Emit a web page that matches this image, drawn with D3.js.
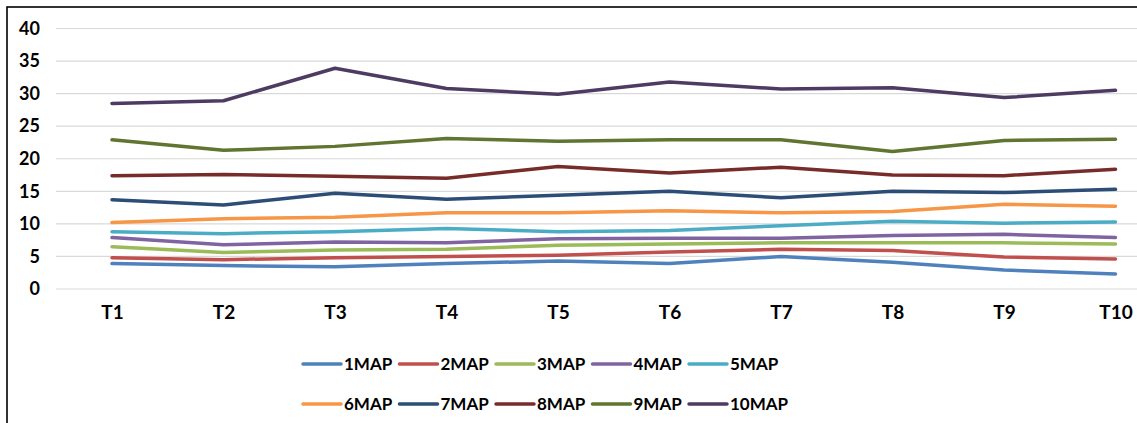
<!DOCTYPE html>
<html>
<head>
<meta charset="utf-8">
<script src="https://cdn.jsdelivr.net/npm/d3@7"></script>
<style>
  html, body { margin: 0; padding: 0; background: #fff; }
  svg { display: block; }
</style>
</head>
<body>
<svg id="chart" width="1137" height="423"></svg>
<script>
const categories = ["T1","T2","T3","T4","T5","T6","T7","T8","T9","T10"];
const seriesNames = ["1MAP","2MAP","3MAP","4MAP","5MAP","6MAP","7MAP","8MAP","9MAP","10MAP"];
const seriesColors = ["#4F81BD","#C0504D","#9BBB59","#8064A2","#4BACC6","#F79646","#2C4D75","#772C2A","#5F7530","#4D3B62"];
const map1  = [3.9, 3.6, 3.4, 3.9, 4.3, 3.9, 5.0, 4.1, 2.9, 2.3];
const map2  = [4.8, 4.5, 4.8, 5.0, 5.2, 5.7, 6.1, 5.9, 4.9, 4.6];
const map3  = [6.5, 5.6, 6.0, 6.1, 6.7, 6.9, 7.1, 7.1, 7.1, 6.9];
const map4  = [7.9, 6.8, 7.2, 7.1, 7.7, 7.8, 7.8, 8.2, 8.4, 7.9];
const map5  = [8.8, 8.5, 8.8, 9.3, 8.8, 9.0, 9.7, 10.4, 10.1, 10.3];
const map6  = [10.2, 10.8, 11.0, 11.7, 11.7, 12.0, 11.7, 11.9, 13.0, 12.7];
const map7  = [13.7, 12.9, 14.7, 13.8, 14.4, 15.0, 14.0, 15.0, 14.8, 15.3];
const map8  = [17.4, 17.6, 17.3, 17.0, 18.8, 17.8, 18.7, 17.5, 17.4, 18.4];
const map9  = [22.9, 21.3, 21.9, 23.1, 22.7, 22.9, 22.9, 21.1, 22.8, 23.0];
const map10 = [28.5, 28.9, 33.9, 30.8, 29.9, 31.8, 30.7, 30.9, 29.4, 30.5];
const seriesValues = [map1, map2, map3, map4, map5, map6, map7, map8, map9, map10];
const yTicks = [0, 5, 10, 15, 20, 25, 30, 35, 40];

const svg = d3.select("#chart");
const font = "Lato, 'Open Sans', sans-serif";

// frame (top and left edges visible; right/bottom cropped)
svg.append("rect").attr("x", 7).attr("y", 7).attr("width", 1200).attr("height", 500)
  .attr("fill", "none").attr("stroke", "#000").attr("stroke-width", 1.6);

const y = d3.scaleLinear().domain([0, 40]).range([289, 28.5]);
const x = d3.scalePoint().domain(categories).range([112, 1115.5]);
const gridLeft = 56, gridRight = 1137;

// gridlines
svg.append("g").selectAll("line").data(yTicks).join("line")
  .attr("x1", gridLeft).attr("x2", gridRight)
  .attr("y1", d => y(d)).attr("y2", d => y(d))
  .attr("stroke", "#d9d9d9").attr("stroke-width", 1.2);

// y axis labels
const yAxis = svg.append("g").attr("transform", "translate(40,0)")
  .call(d3.axisLeft(y).tickValues(yTicks).tickSize(0).tickPadding(0));
yAxis.select(".domain").remove();
yAxis.selectAll("text").attr("font-family", font).attr("font-weight", "bold")
  .attr("font-size", 18).attr("fill", "#000");

// x axis labels
const xAxis = svg.append("g").attr("transform", "translate(0,305)")
  .call(d3.axisBottom(x).tickSize(0).tickPadding(0));
xAxis.select(".domain").remove();
xAxis.selectAll("text").attr("font-family", font).attr("font-weight", "bold")
  .attr("font-size", 19).attr("fill", "#000");

// lines
const line = d3.line().x((d, i) => x(categories[i])).y(d => y(d));
svg.append("g").selectAll("path").data(seriesValues).join("path")
  .attr("d", d => line(d))
  .attr("fill", "none")
  .attr("stroke", (d, i) => seriesColors[i])
  .attr("stroke-width", 3.5)
  .attr("stroke-linecap", "round")
  .attr("stroke-linejoin", "round");

// legend
const legend = svg.append("g");
const items = legend.selectAll("g").data(seriesNames).join("g")
  .attr("transform", (d, i) => `translate(${303 + (i % 5) * 96.5},${i < 5 ? 364 : 404})`);
items.append("line").attr("x1", 0).attr("x2", 38).attr("y1", 0).attr("y2", 0)
  .attr("stroke", (d, i) => seriesColors[i]).attr("stroke-width", 3.5).attr("stroke-linecap", "round");
items.append("text").attr("x", 41).attr("y", 0).attr("dy", "0.36em")
  .attr("font-family", font).attr("font-weight", "bold").attr("font-size", 17)
  .attr("fill", "#000").text(d => d);
</script>
</body>
</html>
